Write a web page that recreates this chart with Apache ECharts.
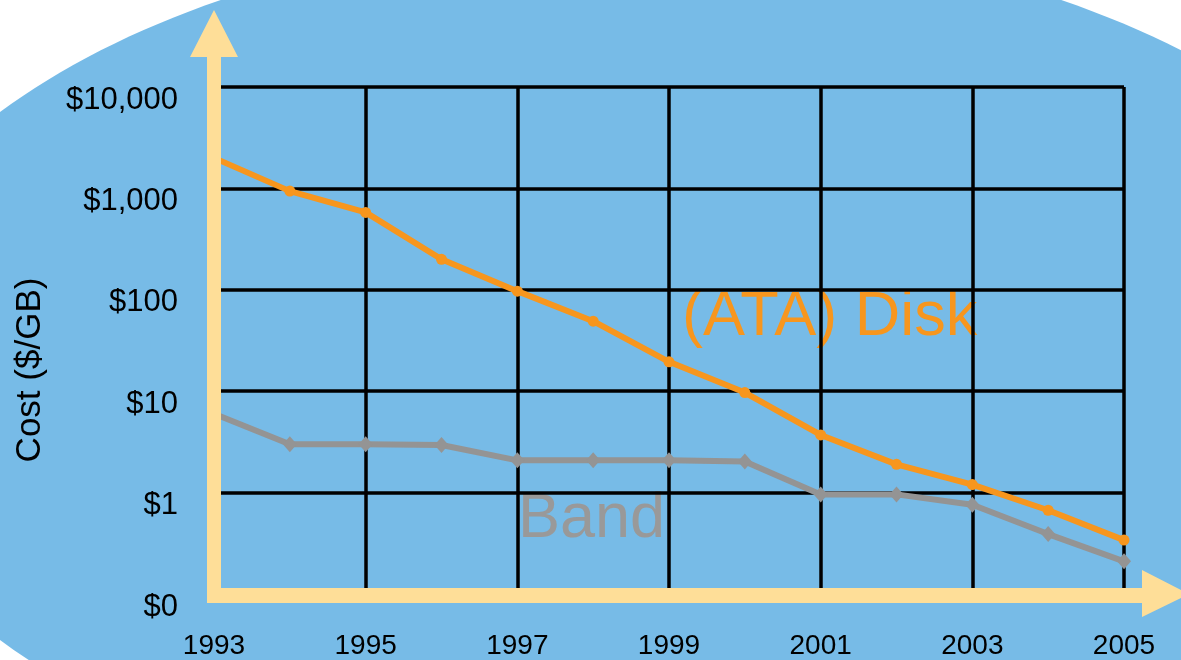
<!DOCTYPE html>
<html>
<head>
<meta charset="utf-8">
<title>Cost ($/GB)</title>
<style>
    html, body { margin: 0; padding: 0; background: #ffffff; }
    #chart { width: 1181px; height: 660px; }
</style>
<script src="https://cdn.jsdelivr.net/npm/echarts@6/dist/echarts.min.js"></script>
</head>
<body>
<div id="chart"></div>
<script>
const years = ["1993", "1994", "1995", "1996", "1997", "1998", "1999",
               "2000", "2001", "2002", "2003", "2004", "2005"];
const diskCost = [2000, 940, 580, 200, 97, 49, 19.5, 9.7, 3.7, 1.9, 1.2, 0.67, 0.34];
const bandCost = [6, 3.0, 3.0, 2.95, 2.08, 2.08, 2.08, 2.03, 0.96, 0.96, 0.76, 0.39, 0.21];
const yTicks = [0.1, 1, 10, 100, 1000, 10000];
const yTickLabels = ["$0", "$1", "$10", "$100", "$1,000", "$10,000"];

const FONT = "Liberation Sans, Arial, sans-serif";
const ORANGE = "#F7961E";
const GRAY = "#949494";
const ARROW = "#FEDE98";

function yLabel(value) {
    const i = yTicks.findIndex(t => Math.abs(Math.log10(t) - Math.log10(value)) < 0.01);
    return i >= 0 ? yTickLabels[i] : "";
}

const chart = echarts.init(document.getElementById("chart"));

chart.setOption({
    backgroundColor: "#ffffff",
    animation: false,
    grid: { left: 214, right: 57, top: 87, bottom: 64 },
    xAxis: {
        type: "category",
        data: years,
        boundaryGap: false,
        axisLine: { show: false },
        axisTick: { show: false },
        axisLabel: {
            interval: 1,
            margin: 38,
            color: "#000",
            fontSize: 28,
            fontFamily: FONT
        },
        splitLine: {
            show: true,
            interval: 1,
            lineStyle: { color: "#000", width: 3.5 }
        }
    },
    yAxis: {
        type: "log",
        logBase: 10,
        min: 0.1,
        max: 10000,
        axisLine: { show: false },
        axisTick: { show: false },
        axisLabel: {
            margin: 36,
            color: "#000",
            fontSize: 31,
            fontFamily: FONT,
            verticalAlign: "top",
            lineHeight: 26,
            formatter: yLabel
        },
        splitLine: { lineStyle: { color: "#000", width: 3.5 } }
    },
    series: [
        {
            name: "(ATA) Disk",
            type: "line",
            data: diskCost,
            symbol: "circle",
            symbolSize: 11,
            lineStyle: { color: ORANGE, width: 6 },
            itemStyle: { color: ORANGE }
        },
        {
            name: "Band",
            type: "line",
            data: bandCost,
            symbol: "diamond",
            symbolSize: [14, 16],
            lineStyle: { color: GRAY, width: 6 },
            itemStyle: { color: GRAY }
        }
    ],
    graphic: [
        {
            type: "ellipse",
            z: -20,
            shape: { cx: 641, cy: 376, rx: 799, ry: 442 },
            style: { fill: "#77BBE7" }
        },
        {
            type: "text",
            z: 50,
            x: 30,
            y: 370,
            rotation: Math.PI / 2,
            style: {
                text: "Cost ($/GB)", fill: "#000", fontSize: 35, fontFamily: FONT,
                align: "center", verticalAlign: "middle"
            }
        },
        {
            type: "text",
            z: -10,
            left: 682,
            top: 286,
            style: { text: "(ATA) Disk", fill: ORANGE, fontSize: 63, fontFamily: FONT }
        },
        {
            type: "text",
            z: -10,
            left: 518,
            top: 488,
            style: { text: "Band", fill: "#999999", fontSize: 63, fontFamily: FONT }
        },
        {
            type: "polygon",
            z: 100,
            shape: { points: [[207, 603], [207, 57], [190, 57], [214, 10], [238, 57], [221, 57], [221, 603]] },
            style: { fill: ARROW }
        },
        {
            type: "polygon",
            z: 100,
            shape: { points: [[207, 588], [1142, 588], [1142, 570], [1189, 594], [1142, 617], [1142, 603], [207, 603]] },
            style: { fill: ARROW }
        }
    ]
});

window.addEventListener("resize", () => chart.resize());
</script>
</body>
</html>
